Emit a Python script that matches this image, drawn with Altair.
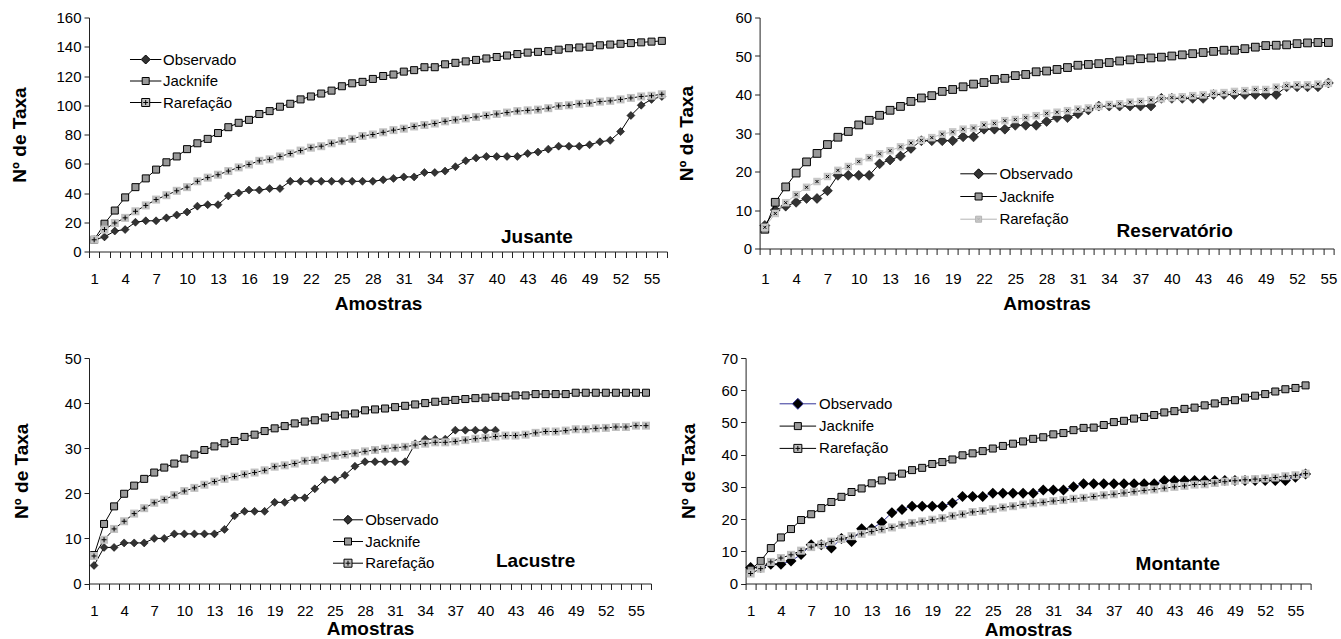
import altair as alt
import pandas as pd

SERIES = ["Observado", "Jacknife", "Rarefação"]

# ---------------- data ----------------
jus_obs = [8, 10, 14, 15, 20, 21, 21, 23, 25, 27, 31, 32, 32, 38, 40, 42, 42, 43, 43, 48,
           48, 48, 48, 48, 48, 48, 48, 48, 49, 50, 51, 51, 54, 54, 55, 58, 62, 64, 65, 65,
           65, 65, 67, 68, 70, 72, 72, 72, 73, 75, 76, 82, 93, 100, 104, 106]
jus_jack = [8, 19, 28, 37, 44, 50, 56, 61, 65, 70, 74, 77, 81, 85, 88, 90, 94, 96, 99, 101,
            104, 106, 108, 110, 113, 115, 116, 118, 120, 121, 123, 124, 126, 126, 128, 129, 130, 131, 132, 133,
            134, 135, 136, 136.5, 137, 138, 139, 139.5, 140, 141, 141.5, 142, 142.5, 143, 143.5, 144]
jus_rar = [8, 15, 19.5, 23, 27.5, 31.5, 35.5, 38.5, 41.5, 44, 48, 50.5, 52.5, 55, 57.5, 59.5, 62, 63, 65, 67,
           69, 71, 72, 74, 75.5, 77, 79, 80, 81.5, 83, 84, 85.5, 86.5, 87.5, 89, 90, 91, 92, 93, 94,
           95, 96, 96.5, 97, 98, 99.5, 100, 101, 101.5, 102.5, 103, 104, 105, 106, 106.5, 107.5]

res_obs = [6, 10, 11, 12, 13, 13, 15, 19, 19, 19, 19, 22, 23, 24, 26, 28, 28, 28, 28, 29,
           29, 31, 31, 31, 32, 32, 32, 33, 34, 34, 35, 36, 37, 37, 37, 37, 37, 37, 39, 39,
           39, 39, 39, 40, 40, 40, 40, 40, 40, 40, 42, 42, 42, 42, 43]
res_jack = [5, 12, 16, 19.6, 22.5, 24.7, 27, 28.9, 30.4, 32.1, 33.3, 34.6, 35.9, 36.9, 38.2, 39.1, 39.7, 40.8, 41.3, 42,
            42.7, 43.1, 43.9, 44.2, 44.9, 45.2, 45.9, 46.1, 46.5, 47, 47.6, 47.8, 48, 48.3, 48.7, 49, 49.3, 49.5, 49.7, 50,
            50.3, 50.6, 50.9, 51.2, 51.5, 51.5, 51.9, 52.3, 52.7, 52.8, 52.9, 53.2, 53.4, 53.5, 53.5]
res_rar = [5.5, 9.1, 11.9, 14, 15.9, 17.4, 18.7, 20.3, 21.3, 22.6, 23.6, 24.6, 25.4, 26.4, 27.4, 28.1, 28.8, 29.7, 30.3, 31,
           31.3, 32.1, 32.5, 33.2, 33.5, 34, 34.5, 35.1, 35.4, 35.8, 36.2, 36.5, 36.9, 37.4, 37.6, 38, 38.2, 38.6, 38.9, 39.2,
           39.4, 39.7, 39.9, 40.3, 40.5, 40.8, 41, 41.3, 41.3, 41.9, 42.3, 42.5, 42.5, 42.7, 42.9]

lac_obs = [4, 8, 8, 9, 9, 9, 10, 10, 11, 11, 11, 11, 11, 12, 15, 16, 16, 16, 18, 18,
           19, 19, 21, 23, 23, 24, 26, 27, 27, 27, 27, 27, 31, 32, 32, 32, 34, 34, 34, 34, 34]
lac_jack = [6.3, 13.2, 17.1, 19.9, 21.7, 23.2, 24.6, 25.7, 26.6, 27.7, 28.6, 29.6, 30.4, 31.1, 31.6, 32.5, 33, 33.8, 34.4, 34.9,
            35.5, 35.9, 36.2, 36.8, 37.2, 37.5, 37.7, 38.4, 38.6, 38.8, 39.1, 39.4, 39.7, 40, 40.3, 40.5, 40.7, 40.9, 41.1, 41.2,
            41.4, 41.4, 41.7, 41.7, 42, 42, 42, 42, 42.3, 42.3, 42.3, 42.3, 42.3, 42.3, 42.3, 42.3]
lac_rar = [6.1, 9.7, 12.1, 13.8, 15.5, 16.7, 17.9, 18.6, 19.6, 20.5, 21.2, 21.9, 22.6, 23.2, 23.7, 24.2, 24.6, 25.1, 25.9, 26.2,
           26.6, 27.2, 27.4, 27.9, 28.3, 28.6, 28.9, 29.3, 29.6, 29.9, 30.1, 30.3, 30.7, 31, 31.3, 31.3, 31.5, 31.8, 32.1, 32.3,
           32.6, 32.8, 32.8, 33, 33.4, 33.7, 33.7, 33.9, 34.2, 34.2, 34.4, 34.5, 34.7, 34.7, 35, 35]

mon_obs = [5, 5, 6, 6, 7, 9, 12, 12, 11, 14, 13, 17, 17, 19, 22, 23, 24, 24, 24, 24,
           25, 27, 27, 27, 28, 28, 28, 28, 28, 29, 29, 29, 30, 31, 31, 31, 31, 31, 31, 31,
           31, 32, 32, 32, 32, 32, 32, 32, 32, 32, 32, 32, 32, 32, 33, 34]
mon_jack = [4.3, 7, 11, 14.3, 16.9, 19.7, 21.5, 23.4, 25.3, 26.9, 28.4, 29.5, 31.1, 32, 33.2, 34.1, 35.2, 35.9, 37.1, 37.7,
            38.5, 39.8, 40.4, 41.1, 41.9, 42.7, 43.4, 44.1, 44.9, 45.4, 46.3, 46.7, 47.6, 48.3, 48.4, 49.2, 50.1, 50.5, 51.2, 51.7,
            52.3, 53.1, 53.5, 54.2, 54.6, 55.3, 55.9, 56.6, 56.9, 57.7, 58.3, 58.8, 59.6, 60.3, 60.7, 61.5]
mon_rar = [3.1, 4.6, 6.7, 7.9, 8.9, 10.2, 11.3, 12.1, 13, 13.8, 14.7, 15.4, 16.1, 16.8, 17.4, 18.2, 18.8, 19.3, 19.8, 20.3,
           21, 21.5, 22.2, 22.5, 23.1, 23.6, 24, 24.5, 24.9, 25.2, 25.6, 25.9, 26.3, 26.6, 27, 27.4, 27.7, 28.1, 28.5, 28.9,
           29.2, 29.6, 30, 30.3, 30.7, 30.8, 31.2, 31.6, 31.9, 32.2, 32.4, 32.6, 32.9, 33.3, 33.6, 34.1]

# ---------------- styling ----------------
FONT = "Liberation Sans"
AX = "#222222"
PLUS = "M-1,0H1M0,-1V1"
XMARK = "M-1,-1L1,1M-1,1L1,-1"
LEG_SIZE = 196
S = (LEG_SIZE ** 0.5) / 2.0


def f(v):
    return ("%.3f" % v).rstrip("0").rstrip(".")


def legend_path(half, marker, m, inner=None, ip=0.0):
    h, q = half / S, m / S
    p = "M%s,0H%sM%s,0H%s" % (f(-h), f(-q), f(q), f(h))
    if marker == "diamond":
        p += "M%s,0L0,%sL%s,0L0,%sZ" % (f(-q), f(-q), f(q), f(q))
    else:
        p += "M%s,%sH%sV%sH%sZ" % (f(-q), f(-q), f(q), f(q), f(-q))
    if inner == "plus":
        r = ip / S
        p += "M%s,0H%sM0,%sV%s" % (f(-r), f(r), f(-r), f(r))
    elif inner == "x":
        r = ip / S
        p += "M%s,%sL%s,%sM%s,%sL%s,%s" % (f(-r), f(-r), f(r), f(r), f(-r), f(r), f(r), f(-r))
    return p


ST_JL = {
    "Observado": dict(line="#000000", shape="diamond", size=64, fill="#333333", stroke="#000000", sw=0.5),
    "Jacknife": dict(line="#000000", shape="square", size=49, fill="#999999", stroke="#000000", sw=1),
    "Rarefação": dict(line="#000000", shape="square", size=64, fill="#c0c0c0", inner=PLUS, isize=25),
}
ST_R = {
    "Observado": dict(line="#000000", shape="diamond", size=100, fill="#333333", stroke="#000000", sw=0.5),
    "Jacknife": dict(line="#000000", shape="square", size=60, fill="#999999", stroke="#000000", sw=1),
    "Rarefação": dict(line="#c0c0c0", shape="square", size=56, fill="#c8c8c8", inner=XMARK, isize=9),
}
ST_M = {
    "Observado": dict(line="#333399", shape="diamond", size=121, fill="#000000"),
    "Jacknife": dict(line="#000000", shape="square", size=49, fill="#999999", stroke="#000000", sw=1),
    "Rarefação": dict(line="#000000", shape="square", size=64, fill="#c0c0c0", inner=PLUS, isize=25),
}


def panel(name, values, n, ymax, ystep, W, H, st, leg, lab, ax):
    rows = []
    for s, arr in zip(SERIES, values):
        for i, v in enumerate(arr):
            rows.append({"amostra": i + 1, "taxa": v, "serie": s})
    df = pd.DataFrame(rows)
    band = W / n
    x = alt.X("amostra:Q",
              scale=alt.Scale(domain=[0.5, n + 0.5], nice=False, zero=False),
              axis=alt.Axis(values=[k + 0.5 for k in range(n + 1)],
                            labelExpr="(datum.value - 0.5) % 3 == 0 ? '' + (datum.value + 0.5) : ''",
                            labelOffset=band / 2, labelFlush=False, labelOverlap=False, labelBound=False,
                            labelAngle=0, tickSize=6, labelPadding=ax["xlp"],
                            title="Amostras", titlePadding=ax["xtp"], grid=False))
    y = alt.Y("taxa:Q",
              scale=alt.Scale(domain=[0, ymax], nice=False, zero=True),
              axis=alt.Axis(values=list(range(0, ymax + 1, ystep)), tickSize=5, labelPadding=3,
                            title="Nº de Taxa", titlePadding=ax["ytp"], grid=False))
    base = alt.Chart(df).encode(x=x, y=y)
    layers = []
    for s in SERIES:
        c = st[s]
        sub = base.transform_filter(alt.datum.serie == s)
        layers.append(sub.mark_line(color=c["line"], strokeWidth=1))
        kw = dict(shape=c["shape"], size=c["size"], filled=True, fill=c["fill"], opacity=1)
        if "stroke" in c:
            kw.update(stroke=c["stroke"], strokeWidth=c["sw"])
        layers.append(sub.mark_point(**kw))
        if c.get("inner"):
            layers.append(sub.mark_point(shape=c["inner"], size=c["isize"], filled=False,
                                         stroke="#000000", strokeWidth=1, opacity=1))
    lg = alt.Legend(title=None, orient="none", legendX=leg["x"], legendY=leg["y"], padding=0,
                    rowPadding=leg["rp"], symbolSize=LEG_SIZE, symbolStrokeWidth=1,
                    symbolOffset=leg["half"] - 7.5, labelOffset=2 * leg["half"] + leg["gap"] - 25,
                    labelFont=FONT, labelFontSize=15, labelColor="#000000",
                    symbolFillColor="#ffffff", symbolStrokeColor="#000000", labelLimit=0)
    leg_layer = alt.Chart(df).transform_filter("false").mark_point(opacity=1, filled=False).encode(
        shape=alt.Shape("serie:N", scale=alt.Scale(domain=SERIES, range=leg["paths"]), legend=lg),
        fill=alt.Fill("serie:N", scale=alt.Scale(domain=SERIES, range=leg["fills"]), legend=lg),
        stroke=alt.Stroke("serie:N", scale=alt.Scale(domain=SERIES, range=leg["strokes"]), legend=lg),
    )
    txt = alt.Chart(pd.DataFrame({"t": [name]})).mark_text(
        font=FONT, fontSize=19, fontWeight="bold", align="left", baseline="alphabetic", color="#000000"
    ).encode(text="t:N", x=alt.value(lab[0]), y=alt.value(lab[1]))
    return alt.layer(*layers, leg_layer, txt).properties(width=W, height=H)


def leg_jl(x, y, rp, half, gap):
    return dict(x=x, y=y, rp=rp, half=half, gap=gap,
                paths=[legend_path(half, "diamond", 4.5), legend_path(half, "square", 3.5),
                       legend_path(half, "square", 4, "plus", 2.5)],
                fills=["#333333", "#999999", "#c0c0c0"], strokes=["#000000", "#000000", "#000000"])


leg_j = leg_jl(41, 34.5, 5.5, 15.7, 3.4)
leg_l = leg_jl(244, 154.3, 5.7, 15.0, 4.7)
leg_r = dict(x=200.7, y=148.8, rp=6.7, half=18.3, gap=1.7,
             paths=[legend_path(18.3, "diamond", 5), legend_path(18.3, "square", 3.5),
                    legend_path(18.3, "square", 3, "x", 1.3)],
             fills=["#333333", "#999999", "#c8c8c8"], strokes=["#000000", "#000000", "#b4b4b4"])
leg_m = dict(x=34, y=38.3, rp=6.3, half=18.25, gap=2.2,
             paths=[legend_path(18.25, "diamond", 5.5), legend_path(18.25, "square", 3.5),
                    legend_path(18.25, "square", 4, "plus", 2.5)],
             fills=["#000000", "#999999", "#c0c0c0"], strokes=["#333399", "#000000", "#000000"])

J = panel("Jusante", [jus_obs, jus_jack, jus_rar], 56, 160, 20, 578, 234, ST_JL, leg_j, (412, 225.3),
          dict(xlp=14, xtp=8, ytp=26))
R = panel("Reservatório", [res_obs, res_jack, res_rar], 55, 60, 10, 574, 231, ST_R, leg_r, (357, 219.3),
          dict(xlp=16.5, xtp=8, ytp=38))
L = panel("Lacustre", [lac_obs, lac_jack, lac_rar], 56, 50, 10, 562, 225.5, ST_JL, leg_l, (407, 208.5),
          dict(xlp=13.5, xtp=1, ytp=33))
M = panel("Montante", [mon_obs, mon_jack, mon_rar], 56, 70, 10, 565, 225.5, ST_M, leg_m, (390, 211.8),
          dict(xlp=14, xtp=1.5, ytp=22))

IND = dict(shape="independent", fill="independent", stroke="independent")

chart = alt.vconcat(
    alt.hconcat(J, R, spacing=4.6).resolve_scale(**IND).resolve_legend(**IND),
    alt.hconcat(L, M, spacing=22.6).resolve_scale(**IND).resolve_legend(**IND),
    spacing=37.5,
).resolve_scale(**IND).resolve_legend(**IND).properties(
    padding={"left": 10, "top": 10.5, "right": 0, "bottom": 0},
    background="white",
).configure_view(stroke=None).configure_axis(
    labelFont=FONT, titleFont=FONT, labelFontSize=15, titleFontSize=19, titleFontWeight="bold",
    labelColor="#000000", titleColor="#000000", domainColor=AX, tickColor=AX, grid=False,
)

chart.save("out.html", embed_options={"renderer": "svg", "actions": False})
